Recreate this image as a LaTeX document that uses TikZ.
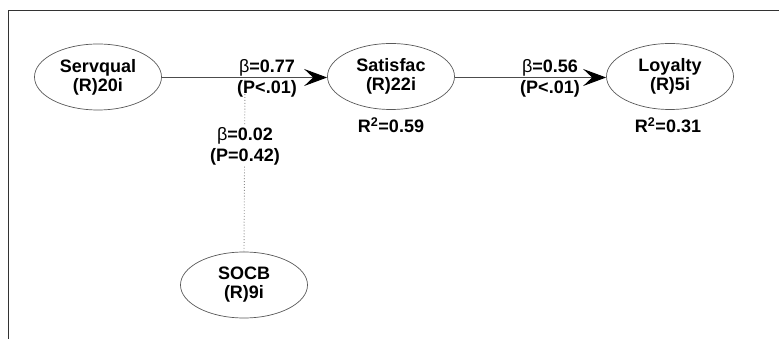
\documentclass[tikz,border=0pt]{standalone}
\usepackage{fontspec}
\setmainfont{Liberation Sans}
\usetikzlibrary{arrows.meta,shapes.geometric}
\begin{document}
\begin{tikzpicture}[x=1pt,y=-1pt,
  lv/.style={draw=black!65, line width=0.7pt, ellipse, minimum width=127pt, minimum height=66pt, inner sep=0pt, align=center, font=\fontsize{18}{19}\selectfont\bfseries},
  lab/.style={align=center, inner sep=1pt, font=\fontsize{18}{21}\selectfont\bfseries},
  path/.style={draw=black!70, line width=1pt, -{Stealth[length=23pt, width=17pt, inset=9pt, black]}},
  moder/.style={draw=black!45, line width=0.9pt, dotted}]
\useasboundingbox (0,0) rectangle (779,339);
\draw[black!80, line width=1.8pt] (8.5,339) -- (8.5,10.5) -- (779,10.5);
\node[lv] (serv) at (98,77) {Servqual\\(R)20i};
\node[lv] (sat) at (391,76.5) {Satisfac\\(R)22i};
\node[lv] (loy) at (670,76.5) {Loyalty\\(R)5i};
\node[lv] (socb) at (244,285) {SOCB\\(R)9i};
\coordinate (m) at (245,77.5);
\draw[moder] (socb.north) -- (m);
\draw[path] (serv.east |- m) -- (sat.west |- m);
\draw[path] (sat.east |- m) -- (loy.west |- m);
\node[lab] (l1) at (267,78) {{\mdseries β}=0.77\\(P<.01)};
\node[lab] (l2) at (550,78) {{\mdseries β}=0.56\\(P<.01)};
\node[lab, fill=white] (l3) at (245,146) {{\mdseries β}=0.02\\(P=0.42)};
\node[lab] (r1) at (391,125) {R\textsuperscript{2}=0.59};
\node[lab] (r2) at (668,125) {R\textsuperscript{2}=0.31};
\end{tikzpicture}
\end{document}
